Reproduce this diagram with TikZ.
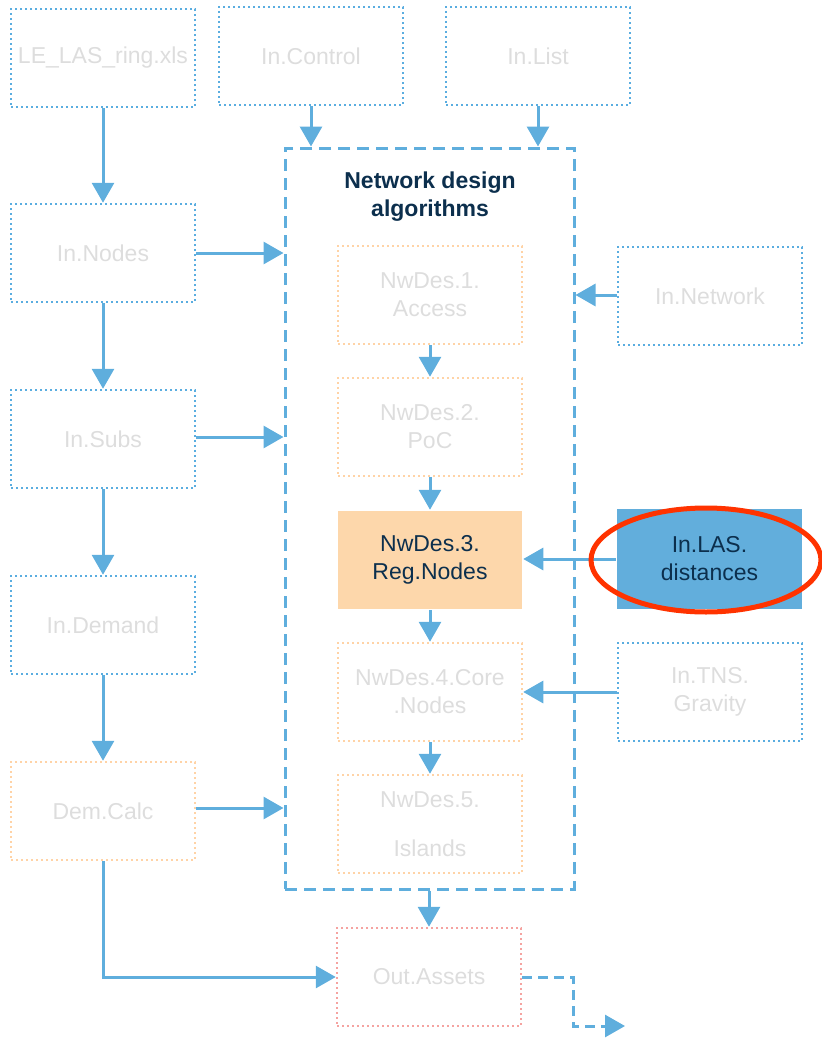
\documentclass[tikz,border=0pt]{standalone}
\usepackage{fontspec}
\setmainfont{Liberation Sans}
\usetikzlibrary{arrows.meta,shapes.geometric}
\definecolor{lineblue}{HTML}{5FAEDD}
\definecolor{dotblue}{HTML}{5AADE0}
\definecolor{dotorange}{HTML}{FFD3A6}
\definecolor{dotred}{HTML}{F5A3A0}
\definecolor{ghost}{HTML}{DDDDDD}
\definecolor{navy}{HTML}{0C2F4D}
\definecolor{peach}{HTML}{FDD7AB}
\definecolor{skyfill}{HTML}{62AEDC}
\definecolor{alertred}{HTML}{FF3300}
\begin{document}
\begin{tikzpicture}[x=1pt,y=-1pt,
  box/.style={minimum width=184pt, minimum height=98pt, align=center, text=ghost,
    font=\fontsize{23}{28}\selectfont, inner sep=0pt, line width=2.5pt,
    dash pattern=on 2.2pt off 2.8pt},
  inbox/.style={box, draw=dotblue},
  algbox/.style={box, draw=dotorange},
  outbox/.style={box, draw=dotred},
  solidbox/.style={box, draw=none, solid, text=navy},
  link/.style={draw=lineblue, line width=3pt, solid, -{Triangle[length=20pt,width=22pt]}},
  dashlink/.style={link, dash pattern=on 10pt off 6pt},
  frame/.style={draw=lineblue, line width=3pt, dash pattern=on 12pt off 7pt, inner sep=0pt},
]
\useasboundingbox (0,0) rectangle (822,1063);

% algorithm container
\node[frame, minimum width=289pt, minimum height=741pt] (algs) at (429.5,518.5) {};
\node[text=navy, align=center, font=\bfseries\fontsize{23}{28}\selectfont] (title) at (430,197)
  {Network design\\algorithms};

% input column
\node[inbox] (le) at (103,58) {LE\_LAS\_ring.xls};
\node[inbox] (innodes) at (103,253) {In.Nodes};
\node[inbox] (insubs) at (103,439) {In.Subs};
\node[inbox] (indemand) at (103,625) {In.Demand};
\node[algbox] (demcalc) at (103,811) {Dem.Calc};

% top inputs
\node[inbox] (inctrl) at (311,56) {In.Control};
\node[inbox] (inlist) at (538,56) {In.List};

% algorithm steps
\node[algbox] (nw1) at (430,295) {NwDes.1.\\Access};
\node[algbox] (nw2) at (430,427) {NwDes.2.\\PoC};
\node[solidbox, fill=peach] (nw3) at (430,560) {NwDes.3.\\Reg.Nodes};
\node[algbox] (nw4) at (430,692) {NwDes.4.Core\\.Nodes};
\node[algbox] (nw5) at (430,824) {NwDes.5.\\[21pt]Islands};

% right inputs
\node[inbox] (innet) at (710,296) {In.Network};
\node[solidbox, fill=skyfill, minimum height=100pt, minimum width=185pt] (inlas) at (709.5,559) {In.LAS.\\distances};
\node[inbox] (intns) at (710,692) {In.TNS.\\Gravity};

% output
\node[outbox] (outassets) at (429,977) {Out.Assets};

% left column flow
\draw[link] (le) -- (innodes);
\draw[link] (innodes) -- (insubs);
\draw[link] (insubs) -- (indemand);
\draw[link] (indemand) -- (demcalc);

% into the container
\draw[link] (inctrl.south) -- (inctrl.south |- algs.north);
\draw[link] (inlist.south) -- (inlist.south |- algs.north);
\draw[link] (innodes.east) -- (innodes.east -| algs.west);
\draw[link] ([yshift=2pt]insubs.east) -- ([yshift=2pt]insubs.east -| algs.west);
\draw[link] ([yshift=3pt]demcalc.east) -- ([yshift=3pt]demcalc.east -| algs.west);
\draw[link] ([yshift=1pt]innet.west) -- ([yshift=1pt]innet.west -| algs.east);

% algorithm sequence
\draw[link] (nw1) -- (nw2);
\draw[link] (nw2) -- (nw3);
\draw[link] (nw3) -- (nw4);
\draw[link] (nw4) -- (nw5);

% side inputs to steps
\draw[link] (inlas.west) -- (inlas.west -| nw3.east);
\draw[link] (intns.west) -- (intns.west -| nw4.east);

% to the output
\draw[link] (outassets.north |- algs.south) -- (outassets.north);
\draw[link] (demcalc.south) |- (outassets.west);
\coordinate (bend) at (573,1026);
\coordinate (outend) at (625,1026);
\draw[dashlink] (outassets.east) -| (bend) -- (outend);

% highlight ring
\node[draw=alertred, line width=5pt, ellipse, minimum width=230pt, minimum height=104pt] (ring) at (706,560) {};
\end{tikzpicture}
\end{document}
